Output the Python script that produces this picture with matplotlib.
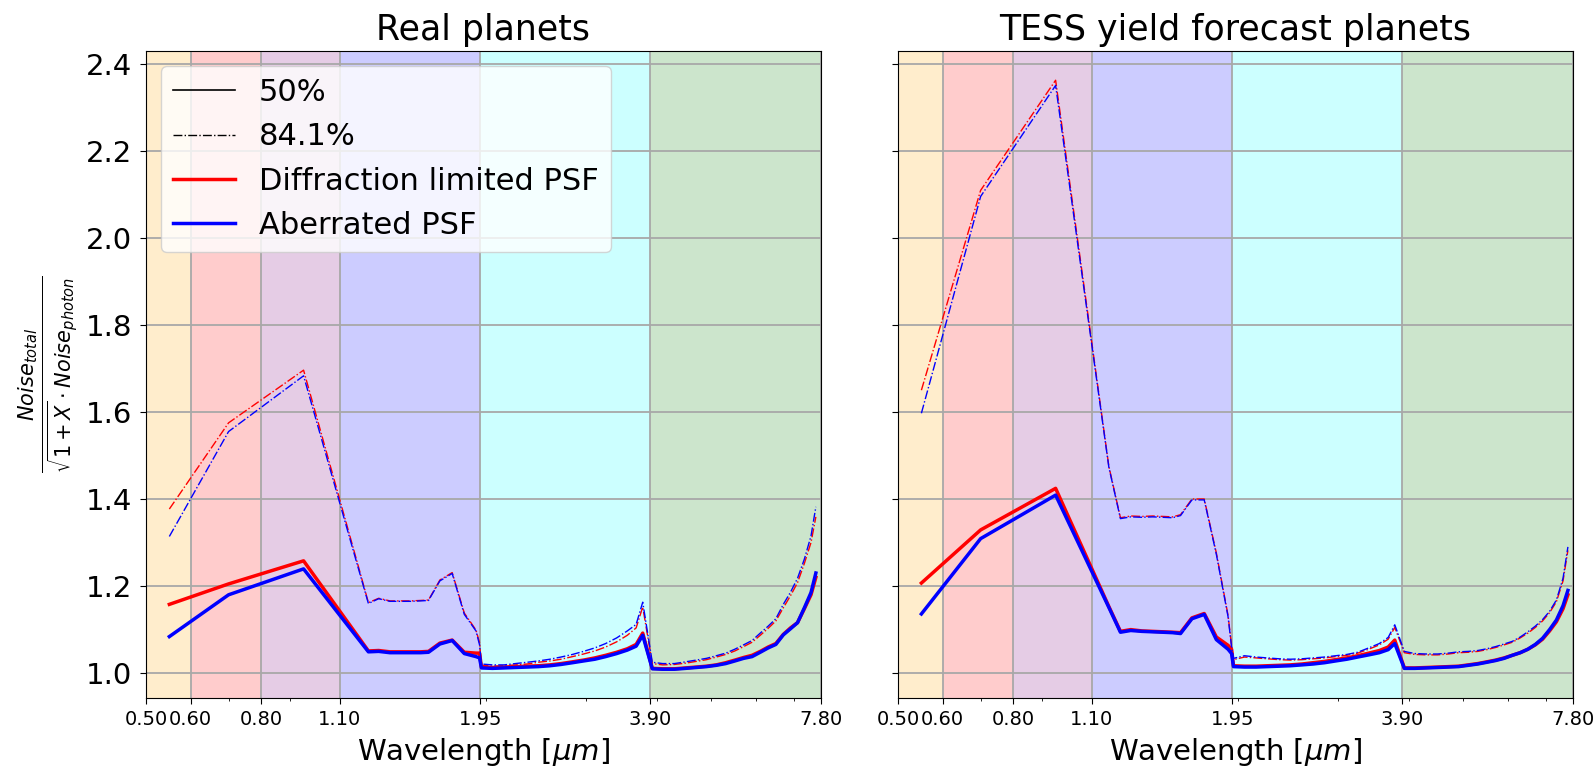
import matplotlib
matplotlib.use("Agg")
import matplotlib.pyplot as plt
from matplotlib.lines import Line2D
from matplotlib.ticker import NullFormatter, FixedLocator

# Wavelength grid [um]
wl = [0.55, 0.70, 0.95,
      1.18, 1.237, 1.29, 1.35, 1.41, 1.47, 1.53, 1.58, 1.655, 1.74, 1.828, 1.917, 1.945,
      1.96, 2.05, 2.15, 2.25, 2.36, 2.47, 2.59, 2.71, 2.84, 2.97, 3.11, 3.25, 3.40, 3.55, 3.68, 3.78,
      3.93, 4.1, 4.3, 4.5, 4.7, 4.9, 5.1, 5.3, 5.5, 5.7, 5.9, 6.1, 6.3, 6.5, 6.7, 6.9, 7.1, 7.3, 7.5, 7.65]

# Spectral bands (edges) and their shading colours
band_edges = [0.50, 0.60, 0.80, 1.10, 1.95, 3.90, 7.80]
band_colors = ["orange", "red", "purple", "blue", "cyan", "green"]
tick_labels = ["0.50", "0.60", "0.80", "1.10", "1.95", "3.90", "7.80"]

# Real planets
real_dl_50 = [1.158, 1.205, 1.258,
              1.088, 1.051, 1.052, 1.049, 1.049, 1.049, 1.049, 1.050, 1.069, 1.076, 1.048, 1.046, 1.046,
              1.014, 1.013, 1.014, 1.015, 1.016, 1.017, 1.019, 1.022, 1.026, 1.030, 1.035, 1.041, 1.048, 1.056, 1.066, 1.092,
              1.011, 1.010, 1.010, 1.012, 1.014, 1.016, 1.019, 1.024, 1.030, 1.036, 1.041, 1.050, 1.060, 1.068, 1.089, 1.104, 1.116, 1.148, 1.180, 1.220]
real_dl_841 = [1.377, 1.575, 1.696,
               1.258, 1.162, 1.172, 1.166, 1.166, 1.166, 1.167, 1.168, 1.214, 1.231, 1.138, 1.099, 1.070,
               1.018, 1.016, 1.017, 1.019, 1.021, 1.025, 1.028, 1.032, 1.038, 1.044, 1.051, 1.060, 1.072, 1.087, 1.104, 1.152,
               1.022, 1.019, 1.020, 1.023, 1.027, 1.031, 1.037, 1.043, 1.051, 1.061, 1.071, 1.087, 1.103, 1.120, 1.150, 1.178, 1.208, 1.252, 1.300, 1.359]
real_ab_50 = [1.084, 1.180, 1.2395,
              1.083, 1.049, 1.050, 1.047, 1.047, 1.047, 1.047, 1.048, 1.067, 1.075, 1.045, 1.038, 1.035,
              1.012, 1.011, 1.012, 1.013, 1.014, 1.015, 1.017, 1.020, 1.024, 1.028, 1.032, 1.038, 1.045, 1.053, 1.062, 1.087,
              1.010, 1.009, 1.009, 1.011, 1.013, 1.015, 1.018, 1.022, 1.028, 1.034, 1.038, 1.048, 1.058, 1.066, 1.088, 1.102, 1.116, 1.150, 1.185, 1.230]
real_ab_841 = [1.314, 1.555, 1.683,
               1.253, 1.160, 1.171, 1.165, 1.165, 1.165, 1.166, 1.167, 1.212, 1.229, 1.135, 1.097, 1.065,
               1.021, 1.019, 1.019, 1.022, 1.025, 1.028, 1.032, 1.037, 1.043, 1.050, 1.058, 1.068, 1.081, 1.097, 1.112, 1.163,
               1.025, 1.022, 1.022, 1.026, 1.030, 1.034, 1.040, 1.046, 1.055, 1.065, 1.075, 1.092, 1.108, 1.125, 1.158, 1.186, 1.218, 1.262, 1.315, 1.382]

# TESS yield forecast planets
tess_dl_50 = [1.207, 1.329, 1.4245,
              1.153, 1.096, 1.100, 1.097, 1.096, 1.095, 1.094, 1.093, 1.127, 1.137, 1.083, 1.064, 1.055,
              1.017, 1.016, 1.016, 1.017, 1.018, 1.019, 1.021, 1.024, 1.027, 1.031, 1.035, 1.040, 1.046, 1.052, 1.060, 1.076,
              1.012, 1.012, 1.013, 1.014, 1.015, 1.016, 1.019, 1.022, 1.026, 1.030, 1.035, 1.041, 1.047, 1.055, 1.065, 1.078, 1.097, 1.118, 1.148, 1.180]
tess_dl_841 = [1.650, 2.109, 2.362,
               1.475, 1.357, 1.361, 1.360, 1.361, 1.360, 1.359, 1.364, 1.400, 1.400, 1.276, 1.133, 1.063,
               1.031, 1.037, 1.035, 1.033, 1.031, 1.030, 1.031, 1.033, 1.035, 1.038, 1.041, 1.046, 1.055, 1.065, 1.078, 1.105,
               1.047, 1.043, 1.042, 1.042, 1.044, 1.047, 1.048, 1.050, 1.054, 1.059, 1.065, 1.071, 1.081, 1.092, 1.105, 1.120, 1.139, 1.164, 1.212, 1.282]
tess_ab_50 = [1.136, 1.309, 1.409,
              1.151, 1.094, 1.098, 1.096, 1.095, 1.094, 1.093, 1.091, 1.125, 1.135, 1.077, 1.055, 1.045,
              1.015, 1.014, 1.014, 1.015, 1.016, 1.017, 1.019, 1.021, 1.024, 1.028, 1.032, 1.037, 1.042, 1.047, 1.054, 1.068,
              1.011, 1.011, 1.012, 1.013, 1.014, 1.015, 1.018, 1.021, 1.025, 1.029, 1.034, 1.041, 1.047, 1.055, 1.066, 1.080, 1.100, 1.122, 1.155, 1.190]
tess_ab_841 = [1.597, 2.095, 2.350,
               1.473, 1.355, 1.359, 1.358, 1.359, 1.358, 1.357, 1.362, 1.398, 1.398, 1.273, 1.130, 1.060,
               1.034, 1.040, 1.037, 1.035, 1.033, 1.032, 1.033, 1.035, 1.037, 1.040, 1.043, 1.048, 1.058, 1.068, 1.082, 1.111,
               1.050, 1.045, 1.044, 1.044, 1.046, 1.049, 1.050, 1.052, 1.056, 1.061, 1.067, 1.073, 1.083, 1.095, 1.108, 1.123, 1.142, 1.168, 1.218, 1.290]

panels = [
    ("Real planets", real_dl_50, real_dl_841, real_ab_50, real_ab_841),
    ("TESS yield forecast planets", tess_dl_50, tess_dl_841, tess_ab_50, tess_ab_841),
]

fig = plt.figure(figsize=(15.95, 7.67), dpi=100)
ax_left = fig.add_axes([0.0915, 0.0900, 0.4230, 0.8440])
ax_right = fig.add_axes([0.5630, 0.0900, 0.4230, 0.8440], sharey=ax_left)
axes = [ax_left, ax_right]

for ax, (title, dl50, dl841, ab50, ab841) in zip(axes, panels):
    for lo, hi, c in zip(band_edges[:-1], band_edges[1:], band_colors):
        ax.axvspan(lo, hi, color=c, alpha=0.2, lw=0)
    ax.plot(wl, dl50, color="red", lw=2.5, ls="-")
    ax.plot(wl, dl841, color="red", lw=1.0, ls="-.")
    ax.plot(wl, ab50, color="blue", lw=2.5, ls="-")
    ax.plot(wl, ab841, color="blue", lw=1.0, ls="-.")

    ax.set_xscale("log")
    ax.set_xlim(band_edges[0], band_edges[-1])
    ax.xaxis.set_major_locator(FixedLocator(band_edges))
    ax.set_xticklabels(tick_labels)
    ax.xaxis.set_minor_formatter(NullFormatter())
    ax.tick_params(axis="x", which="major", labelsize=14, length=4.5, pad=4.5)
    ax.tick_params(axis="y", labelsize=21, length=4.5, pad=5.5)
    ax.grid(True, which="major", color="#a8a8a8", lw=1.3)
    ax.set_title(title, fontsize=25, pad=8)
    ax.set_xlabel(r"Wavelength [$\mu m$]", fontsize=21, labelpad=5)

ax_left.set_ylim(0.943, 2.43)
ax_left.set_yticks([1.0, 1.2, 1.4, 1.6, 1.8, 2.0, 2.2, 2.4])
ax_right.tick_params(axis="y", labelleft=False)

ax_left.set_ylabel(r"$\frac{Noise_{total}}{\sqrt{1+X}\cdot Noise_{photon}}$",
                   fontsize=21.5, labelpad=4)

handles = [
    Line2D([], [], color="black", lw=1.2, ls="-"),
    Line2D([], [], color="black", lw=1.0, ls="-."),
    Line2D([], [], color="red", lw=2.5),
    Line2D([], [], color="blue", lw=2.5),
]
labels = ["50%", "84.1%", "Diffraction limited PSF", "Aberrated PSF"]
ax_left.legend(handles, labels, loc="upper left", fontsize=22)

fig.savefig("out.png", dpi=100)
